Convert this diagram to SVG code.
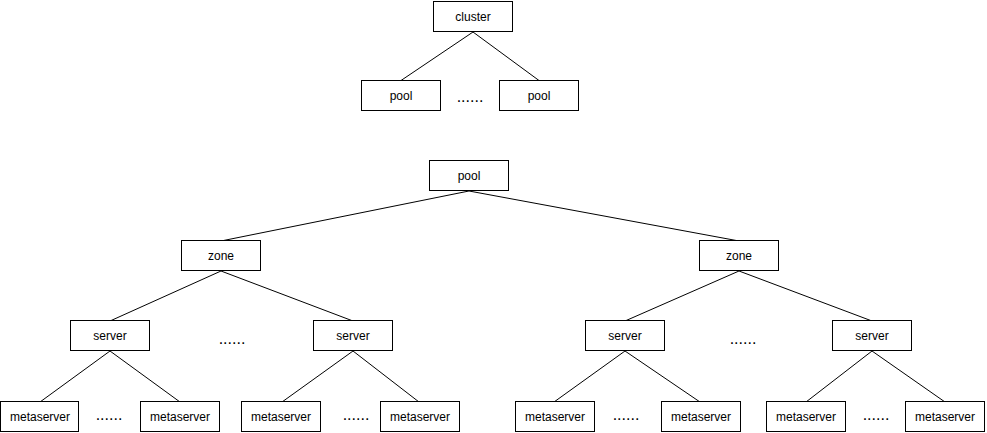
<svg xmlns="http://www.w3.org/2000/svg" width="987" height="433" viewBox="0 0 987 433">
<style>
.box{fill:#fff;stroke:#000;stroke-width:1}
.lbl{font-family:"Liberation Sans",Arial,sans-serif;font-size:12px;fill:#000;text-anchor:middle}
.dots{font-family:"Liberation Sans",Arial,sans-serif;font-size:16px;fill:#000;text-anchor:middle}
.edge{stroke:#000;stroke-width:1;fill:none}
</style>
<rect width="987" height="433" fill="#fff"/>
<g id="connectors">
<line class="edge" x1="473" y1="32" x2="401" y2="80.5"/>
<line class="edge" x1="473" y1="32" x2="539" y2="80.5"/>
<line class="edge" x1="469" y1="191" x2="221" y2="241"/>
<line class="edge" x1="469" y1="191" x2="739" y2="241"/>
<line class="edge" x1="221" y1="271" x2="110" y2="321"/>
<line class="edge" x1="221" y1="271" x2="353" y2="321"/>
<line class="edge" x1="739" y1="271" x2="625" y2="321"/>
<line class="edge" x1="739" y1="271" x2="872" y2="321"/>
<line class="edge" x1="110" y1="351" x2="40" y2="402"/>
<line class="edge" x1="110" y1="351" x2="180" y2="402"/>
<line class="edge" x1="353" y1="351" x2="282" y2="402"/>
<line class="edge" x1="353" y1="351" x2="419" y2="402"/>
<line class="edge" x1="625" y1="351" x2="554" y2="402"/>
<line class="edge" x1="625" y1="351" x2="700" y2="402"/>
<line class="edge" x1="872" y1="351" x2="806" y2="402"/>
<line class="edge" x1="872" y1="351" x2="945" y2="402"/>
</g>
<g id="cluster"><rect class="box" x="433.5" y="1.5" width="79" height="30"/><text class="lbl" x="473" y="20.5">cluster</text></g>
<g id="pool1"><rect class="box" x="361.5" y="80.5" width="79" height="30"/><text class="lbl" x="401" y="99.5">pool</text></g>
<g id="pool2"><rect class="box" x="499.5" y="80.5" width="79" height="30"/><text class="lbl" x="539" y="99.5">pool</text></g>
<text class="dots" x="470" y="102">......</text>
<g id="pool"><rect class="box" x="429.5" y="160.5" width="79" height="30"/><text class="lbl" x="469" y="179.5">pool</text></g>
<g id="zone1"><rect class="box" x="181.5" y="240.5" width="79" height="30"/><text class="lbl" x="221" y="259.5">zone</text></g>
<g id="zone2"><rect class="box" x="699.5" y="240.5" width="79" height="30"/><text class="lbl" x="739" y="259.5">zone</text></g>
<g id="server1"><rect class="box" x="70.5" y="320.5" width="79" height="30"/><text class="lbl" x="110" y="339.5">server</text></g>
<g id="server2"><rect class="box" x="313.5" y="320.5" width="79" height="30"/><text class="lbl" x="353" y="339.5">server</text></g>
<g id="server3"><rect class="box" x="585.5" y="320.5" width="79" height="30"/><text class="lbl" x="625" y="339.5">server</text></g>
<g id="server4"><rect class="box" x="832.5" y="320.5" width="79" height="30"/><text class="lbl" x="872" y="339.5">server</text></g>
<text class="dots" x="232" y="344">......</text>
<text class="dots" x="743" y="344">......</text>
<g id="ms1"><rect class="box" x="0.5" y="401.5" width="78" height="30"/><text class="lbl" x="40" y="420.5">metaserver</text></g>
<g id="ms2"><rect class="box" x="140.5" y="401.5" width="79" height="30"/><text class="lbl" x="180" y="420.5">metaserver</text></g>
<g id="ms3"><rect class="box" x="241.5" y="401.5" width="79" height="30"/><text class="lbl" x="281" y="420.5">metaserver</text></g>
<g id="ms4"><rect class="box" x="380.5" y="401.5" width="79" height="30"/><text class="lbl" x="420" y="420.5">metaserver</text></g>
<g id="ms5"><rect class="box" x="515.5" y="401.5" width="79" height="30"/><text class="lbl" x="555" y="420.5">metaserver</text></g>
<g id="ms6"><rect class="box" x="661.5" y="401.5" width="79" height="30"/><text class="lbl" x="701" y="420.5">metaserver</text></g>
<g id="ms7"><rect class="box" x="766.5" y="401.5" width="79" height="30"/><text class="lbl" x="806" y="420.5">metaserver</text></g>
<g id="ms8"><rect class="box" x="905.5" y="401.5" width="79" height="30"/><text class="lbl" x="945" y="420.5">metaserver</text></g>
<text class="dots" x="109" y="420">......</text>
<text class="dots" x="356" y="420">......</text>
<text class="dots" x="626" y="420">......</text>
<text class="dots" x="876" y="420">......</text>
</svg>
